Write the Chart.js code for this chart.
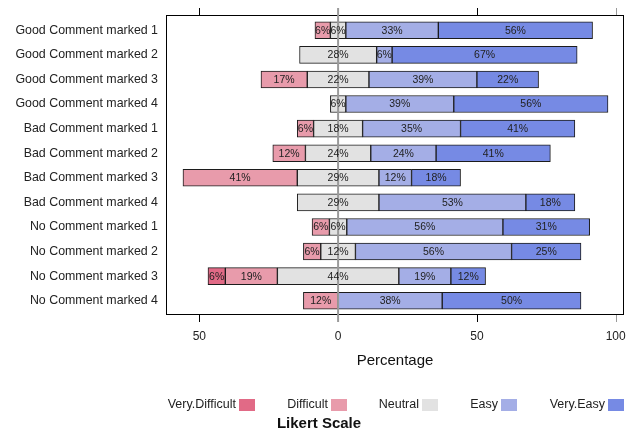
<!DOCTYPE html>
<html>
<head>
<meta charset="utf-8">
<script src="https://cdn.jsdelivr.net/npm/chart.js@4.4.1/dist/chart.umd.min.js"></script>
<style>
  html, body { margin: 0; padding: 0; background: #ffffff; }
  #wrap { width: 636px; height: 432px; }
</style>
</head>
<body>
<div id="wrap"><canvas id="likert" width="636" height="432"></canvas></div>
<script>
// Survey items, top to bottom
const categories = [
  'Good Comment marked 1', 'Good Comment marked 2', 'Good Comment marked 3', 'Good Comment marked 4',
  'Bad Comment marked 1', 'Bad Comment marked 2', 'Bad Comment marked 3', 'Bad Comment marked 4',
  'No Comment marked 1', 'No Comment marked 2', 'No Comment marked 3', 'No Comment marked 4'
];

// Percent of responses per answer level
const veryDifficult = [0, 0, 0, 0, 0, 0, 0, 0, 0, 0, 6.25, 0];
const difficult     = [5.56, 0, 16.67, 0, 5.88, 11.76, 41.18, 0, 6.25, 6.25, 18.75, 12.5];
const neutral       = [5.56, 27.78, 22.22, 5.56, 17.65, 23.53, 29.41, 29.41, 6.25, 12.5, 43.75, 0];
const easy          = [33.33, 5.56, 38.89, 38.89, 35.29, 23.53, 11.76, 52.94, 56.25, 56.25, 18.75, 37.5];
const veryEasy      = [55.56, 66.67, 22.22, 55.56, 41.18, 41.18, 17.65, 17.65, 31.25, 25, 12.5, 50];

const levelNames = ['Very.Difficult', 'Difficult', 'Neutral', 'Easy', 'Very.Easy'];
const xTickValues = [-50, 0, 50, 100];

const levelColors = ['#E16A86', '#E89BAB', '#E2E2E2', '#A4AEE6', '#768AE4'];
const FONT = "'Liberation Sans', Arial, Helvetica, sans-serif";

// Round to whole percent, ties going to the even neighbour
function pct(v) {
  const f = Math.floor(v);
  const d = v - f;
  let r;
  if (Math.abs(d - 0.5) < 1e-9) r = (f % 2 === 0) ? f : f + 1;
  else r = Math.round(v);
  return r + '%';
}

// Diverging layout: neutral straddles zero, disagreeing levels extend left, agreeing right
function spans() {
  const out = { vd: [], d: [], n: [], e: [], ve: [] };
  categories.forEach((_, i) => {
    const h = neutral[i] / 2;
    const dEnd = -h - difficult[i];
    const vdEnd = dEnd - veryDifficult[i];
    const eEnd = h + easy[i];
    const veEnd = eEnd + veryEasy[i];
    out.n.push(neutral[i] ? [-h, h] : null);
    out.d.push(difficult[i] ? [dEnd, -h] : null);
    out.vd.push(veryDifficult[i] ? [vdEnd, dEnd] : null);
    out.e.push(easy[i] ? [h, eEnd] : null);
    out.ve.push(veryEasy[i] ? [eEnd, veEnd] : null);
  });
  return out;
}
const s = spans();

const datasets = [
  { label: levelNames[0], data: s.vd, values: veryDifficult, backgroundColor: levelColors[0] },
  { label: levelNames[1], data: s.d,  values: difficult,     backgroundColor: levelColors[1] },
  { label: levelNames[2], data: s.n,  values: neutral,       backgroundColor: levelColors[2] },
  { label: levelNames[3], data: s.e,  values: easy,          backgroundColor: levelColors[3] },
  { label: levelNames[4], data: s.ve, values: veryEasy,      backgroundColor: levelColors[4] }
];

// Panel frame, outside tick marks and the zero reference line
const framePlugin = {
  id: 'frame',
  beforeDatasetsDraw(chart) {
    const { ctx, chartArea: a } = chart;
    ctx.save();
    ctx.strokeStyle = '#000';
    ctx.lineWidth = 1;
    ctx.strokeRect(Math.round(a.left) + 0.5, Math.round(a.top) - 2.5, Math.round(a.right - a.left) - 1, Math.round(a.bottom - a.top) + 4);
    const xs = chart.scales.x;
    xTickValues.forEach(v => {
      const px = Math.round(xs.getPixelForValue(v)) + 0.5;
      ctx.strokeStyle = (v === 0 || v === 100) ? '#9a9a9a' : '#000';
      ctx.beginPath();
      ctx.moveTo(px, a.top - 3); ctx.lineTo(px, a.top - 10);
      ctx.moveTo(px, a.bottom + 2); ctx.lineTo(px, a.bottom + 9);
      ctx.stroke();
    });
    ctx.restore();
  },
  afterDatasetsDraw(chart) {
    const { ctx, chartArea: a } = chart;
    const x0 = chart.scales.x.getPixelForValue(0);
    ctx.save();
    ctx.strokeStyle = '#9a9a9a';
    ctx.lineWidth = 2;
    ctx.beginPath();
    ctx.moveTo(x0, a.top - 10);
    ctx.lineTo(x0, a.bottom + 9);
    ctx.stroke();

    // percentage labels centred in each segment
    ctx.fillStyle = '#222';
    ctx.font = '10.5px ' + FONT;
    ctx.textAlign = 'center';
    ctx.textBaseline = 'middle';
    chart.data.datasets.forEach((ds, di) => {
      const meta = chart.getDatasetMeta(di);
      meta.data.forEach((el, i) => {
        const v = ds.values[i];
        if (!v || !ds.data[i]) return;
        ctx.fillText(pct(v), (el.x + el.base) / 2, el.y + 0.5);
      });
    });
    ctx.restore();
  }
};

// Legend row with the swatch after each name, plus its title
const legendSwatchLeft = [239, 331, 422, 501, 608];
const legendPlugin = {
  id: 'likertLegend',
  afterDraw(chart) {
    const ctx = chart.ctx;
    ctx.save();
    ctx.font = '12.5px ' + FONT;
    ctx.textBaseline = 'middle';
    ctx.textAlign = 'right';
    levelNames.forEach((name, i) => {
      const x = legendSwatchLeft[i];
      ctx.fillStyle = levelColors[i];
      ctx.fillRect(x, 399, 16, 12);
      ctx.fillStyle = '#222';
      ctx.fillText(name, x - 3, 405);
    });
    ctx.font = 'bold 15px ' + FONT;
    ctx.textAlign = 'center';
    ctx.fillStyle = '#111';
    ctx.fillText('Likert Scale', 319, 424);
    ctx.restore();
  }
};

new Chart(document.getElementById('likert'), {
  type: 'bar',
  data: { labels: categories, datasets },
  options: {
    indexAxis: 'y',
    responsive: false,
    animation: false,
    layout: { padding: { top: 18, right: 12, bottom: 62, left: 0 } },
    datasets: {
      bar: {
        grouped: false,
        barThickness: 17,
        borderWidth: 1,
        borderColor: '#1c1c1c',
        borderSkipped: false
      }
    },
    scales: {
      x: {
        type: 'linear',
        min: -62,
        max: 103,
        afterBuildTicks: sc => { sc.ticks = xTickValues.map(v => ({ value: v })); },
        afterFit: sc => { sc.height = 57; sc.paddingLeft = 0; sc.paddingRight = 0; },
        grid: { display: false, drawTicks: false },
        border: { display: false },
        ticks: {
          callback: v => String(Math.abs(v)),
          font: { family: FONT, size: 12 },
          color: '#222',
          padding: 16,
          maxRotation: 0
        },
        title: {
          display: true,
          text: 'Percentage',
          font: { family: FONT, size: 15 },
          color: '#111',
          padding: 0
        }
      },
      y: {
        type: 'category',
        afterFit: sc => { sc.width = 166; sc.paddingTop = 0; sc.paddingBottom = 0; },
        grid: { display: false, drawTicks: false },
        border: { display: false },
        ticks: {
          font: { family: FONT, size: 12.4 },
          color: '#222',
          padding: 8
        }
      }
    },
    plugins: {
      legend: { display: false },
      tooltip: { enabled: false }
    }
  },
  plugins: [framePlugin, legendPlugin]
});
</script>
</body>
</html>
